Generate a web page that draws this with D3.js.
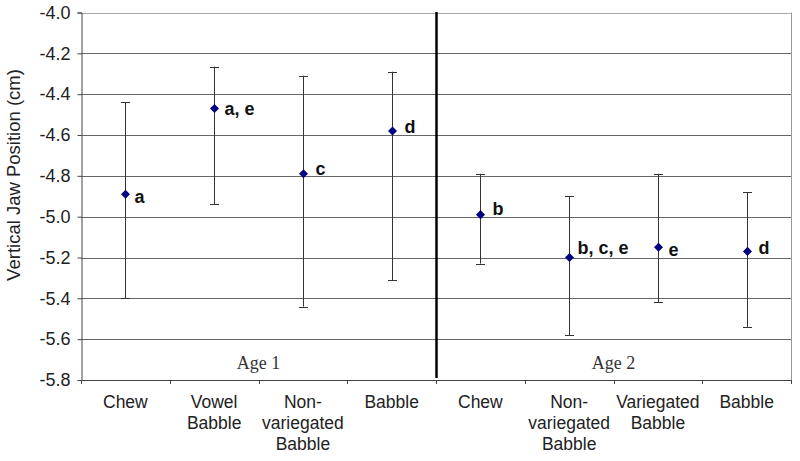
<!DOCTYPE html>
<html>
<head>
<meta charset="utf-8">
<script src="https://cdn.jsdelivr.net/npm/d3@7"></script>
<style>
  html, body { margin: 0; padding: 0; background: #fff; }
  svg { display: block; }
</style>
</head>
<body>
<svg id="chart" width="800" height="461"></svg>
<script>
// ---- Data ----
const categories = ["Chew", "Vowel\nBabble", "Non-\nvariegated\nBabble", "Babble",
                    "Chew", "Non-\nvariegated\nBabble", "Variegated\nBabble", "Babble"];
const means  = [-4.89, -4.47, -4.79, -4.58, -4.99, -5.20, -5.15, -5.17];
const upper  = [-4.44, -4.265, -4.31, -4.29, -4.79, -4.90, -4.79, -4.88];
const lower  = [-5.40, -4.94, -5.44, -5.31, -5.23, -5.58, -5.42, -5.54];
const letters = ["a", "a, e", "c", "d", "b", "b, c, e", "e", "d"];
const groups = ["Age 1", "Age 2"];
const yTicks = [-5.8, -5.6, -5.4, -5.2, -5.0, -4.8, -4.6, -4.4, -4.2, -4.0];
const yTitle = "Vertical Jaw Position (cm)";

// ---- Layout ----
const svg = d3.select("#chart");
const mLeft = 81, mRight = 791, mTop = 12.5, mBottom = 380;
const font = "Arial, 'Liberation Sans', Helvetica, sans-serif";

const x = d3.scaleBand().domain(d3.range(categories.length)).range([mLeft, mRight]).padding(0);
const y = d3.scaleLinear().domain([-5.8, -4.0]).range([mBottom, mTop]);

// gridlines
svg.append("g").selectAll("line").data(yTicks.filter(t => t > -5.8)).join("line")
  .attr("x1", mLeft).attr("x2", mRight)
  .attr("y1", d => Math.round(y(d)) + 0.5).attr("y2", d => Math.round(y(d)) + 0.5)
  .attr("stroke", d => d === -4.0 ? "#aaaaaa" : "#666666").attr("stroke-width", 1);

// right border
svg.append("line").attr("x1", mRight + 0.5).attr("x2", mRight + 0.5)
  .attr("y1", mTop).attr("y2", mBottom).attr("stroke", "#999");

// y axis
const yAxis = svg.append("g").attr("transform", `translate(${mLeft + 0.5},0)`)
  .call(d3.axisLeft(y).tickValues(yTicks).tickFormat(d => d.toFixed(1)).tickSize(4).tickPadding(7));
yAxis.select(".domain").attr("stroke", "#444");
yAxis.selectAll(".tick line").attr("stroke", "#444");
yAxis.selectAll(".tick text").attr("font-family", font).attr("font-size", 18).attr("fill", "#222");

// x axis (line + boundary ticks)
svg.append("line").attr("x1", mLeft).attr("x2", mRight + 1)
  .attr("y1", mBottom + 0.5).attr("y2", mBottom + 0.5).attr("stroke", "#444");
const bounds = d3.range(categories.length + 1).map(i => mLeft + i * x.step());
svg.append("g").selectAll("line").data(bounds).join("line")
  .attr("x1", d => Math.round(d) + 0.5).attr("x2", d => Math.round(d) + 0.5)
  .attr("y1", mBottom).attr("y2", mBottom + 4).attr("stroke", "#444");

// category labels
const catG = svg.append("g").selectAll("text").data(categories).join("text")
  .attr("x", (d, i) => x(i) + x.bandwidth() / 2)
  .attr("y", 408)
  .attr("text-anchor", "middle").attr("font-family", font).attr("font-size", 17.5).attr("fill", "#222");
catG.each(function(d, i) {
  const t = d3.select(this);
  d.split("\n").forEach((line, k) => {
    t.append("tspan").attr("x", x(i) + x.bandwidth() / 2).attr("dy", k === 0 ? 0 : 21).text(line);
  });
});

// divider
const mid = x(4);
svg.append("line").attr("x1", mid + 0.5).attr("x2", mid + 0.5)
  .attr("y1", mTop - 0.5).attr("y2", mBottom - 2).attr("stroke", "#000").attr("stroke-width", 2.5);

// group labels
svg.append("g").selectAll("text").data(groups).join("text")
  .attr("x", (d, i) => i === 0 ? (mLeft + mid) / 2 : (mid + mRight) / 2)
  .attr("y", 369)
  .attr("text-anchor", "middle")
  .attr("font-family", "'Liberation Serif', 'Times New Roman', serif")
  .attr("font-size", 18).attr("fill", "#333")
  .text(d => d);

// y title
svg.append("text")
  .attr("transform", "translate(20,175) rotate(-90)")
  .attr("text-anchor", "middle").attr("font-family", font).attr("font-size", 18.5).attr("fill", "#222")
  .text(yTitle);

// error bars
const cx = i => Math.round(x(i) + x.bandwidth() / 2) + 0.5;
const eb = svg.append("g").attr("stroke", "#333").attr("stroke-width", 1);
means.forEach((m, i) => {
  eb.append("line").attr("x1", cx(i)).attr("x2", cx(i)).attr("y1", y(upper[i])).attr("y2", y(lower[i]));
  eb.append("line").attr("x1", cx(i) - 4.5).attr("x2", cx(i) + 4.5).attr("y1", Math.round(y(upper[i])) + 0.5).attr("y2", Math.round(y(upper[i])) + 0.5);
  eb.append("line").attr("x1", cx(i) - 4.5).attr("x2", cx(i) + 4.5).attr("y1", Math.round(y(lower[i])) + 0.5).attr("y2", Math.round(y(lower[i])) + 0.5);
});

// markers
svg.append("g").selectAll("path").data(means).join("path")
  .attr("d", d3.symbol().type(d3.symbolDiamond2).size(52))
  .attr("transform", (d, i) => `translate(${cx(i)},${y(d)})`)
  .attr("fill", "#000080");

// letter labels (small per-label nudges to mimic the original placement)
const nudgeX = [9, 10, 12, 12, 12, 8, 10, 11];
const nudgeY = [2, 0, -5, -4, -6, -10, 2, -4];
svg.append("g").selectAll("text").data(letters).join("text")
  .attr("x", (d, i) => cx(i) + nudgeX[i])
  .attr("y", (d, i) => y(means[i]) + nudgeY[i])
  .attr("dy", "0.36em")
  .attr("font-family", font).attr("font-size", 18).attr("font-weight", "bold").attr("fill", "#111")
  .text(d => d);
</script>
</body>
</html>
